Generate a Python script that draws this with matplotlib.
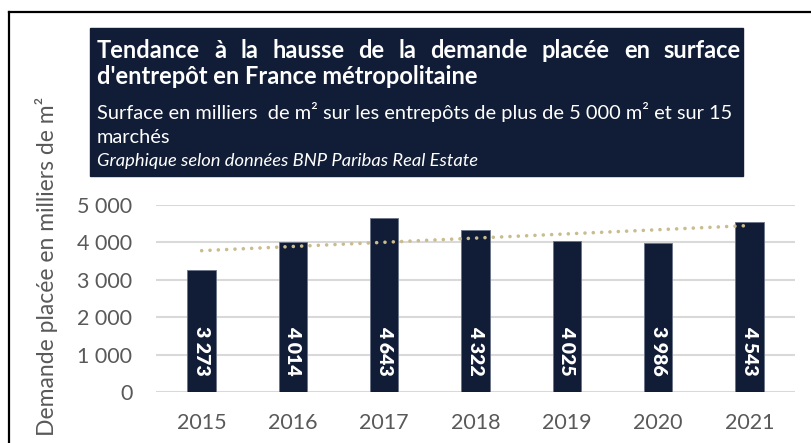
import numpy as np
import matplotlib.pyplot as plt
from matplotlib.patches import Rectangle
from matplotlib.lines import Line2D

# Données (milliers de m²)
annees = ['2015', '2016', '2017', '2018', '2019', '2020', '2021']
demande = [3273, 4014, 4643, 4322, 4025, 3986, 4543]
etiquettes = ['3 273', '4 014', '4 643', '4 322', '4 025', '3 986', '4 543']
yticks = [0, 1000, 2000, 3000, 4000, 5000]
ytick_labels = ['0', '1 000', '2 000', '3 000', '4 000', '5 000']

titre_l1 = "Tendance à la hausse de la demande placée en surface"
titre_l2 = "d'entrepôt en France métropolitaine"
sous_titre_l1 = "Surface en milliers  de m² sur les entrepôts de plus de 5 000 m² et sur 15"
sous_titre_l2 = "marchés"
source = "Graphique selon données BNP Paribas Real Estate"

navy = '#111d36'
gris = '#595959'
police = 'Lato'

W, H = 811, 443
fig = plt.figure(figsize=(W / 100, H / 100), dpi=100)
ax = fig.add_axes([156 / W, 1 - 392 / H, (795 - 156) / W, (392 - 205) / H])

x = np.arange(len(annees))
ax.bar(x, demande, width=0.31, color=navy, edgecolor='#6b7487', linewidth=0.6, zorder=3)

# courbe de tendance linéaire (comme Excel)
a, b = np.polyfit(x, demande, 1)
ax.plot(x, a * x + b, color='#c9bc8e', lw=2.6, linestyle=(0, (0.01, 2.3)),
        dash_capstyle='round', zorder=4)

for xi, lab in zip(x, etiquettes):
    ax.annotate(lab, (xi, 0), xytext=(0, 12), textcoords='offset points',
                rotation=270, ha='center', va='bottom', color='white',
                fontsize=14, fontweight='heavy', family=police, zorder=5)

ax.set_xlim(-0.5, 6.5)
ax.set_ylim(0, 5000)
ax.set_xticks(x)
ax.set_xticklabels(annees)
ax.set_yticks(yticks)
ax.set_yticklabels(ytick_labels)
ax.tick_params(length=0, labelsize=15.5, labelcolor=gris)
ax.tick_params(axis='x', pad=15)
ax.tick_params(axis='y', pad=17)
for lab in ax.get_xticklabels() + ax.get_yticklabels():
    lab.set_family(police)
ax.grid(axis='y', color='#d9d9d9', lw=1.5, zorder=0)
ax.set_axisbelow(True)
for s in ax.spines.values():
    s.set_visible(False)

fig.text(47 / W, 1 - 266 / H, 'Demande placée en milliers de m²', rotation=90,
         ha='center', va='center', fontsize=16.5, color=gris, family=police)

# cadre du graphique
fig.add_artist(Line2D([9 / W, 1], [1 - 12 / H, 1 - 12 / H], color='black', lw=1.6))
fig.add_artist(Line2D([9 / W, 9 / W], [0, 1 - 12 / H], color='black', lw=1.6))

# bloc titre
fig.add_artist(Rectangle((90 / W, 1 - 176 / H), (743 - 90) / W, (176 - 28) / H,
                         transform=fig.transFigure, color=navy, zorder=1))

# ligne 1 justifiée
renderer = fig.canvas.get_renderer()
mots = titre_l1.split(' ')
x0, x1 = 97, 741
objs = [fig.text(0, 1 - 58 / H, m, color='white', fontsize=17, fontweight='bold',
                 family=police, zorder=2) for m in mots]
larg = [t.get_window_extent(renderer).width for t in objs]
esp = (x1 - x0 - sum(larg)) / (len(mots) - 1)
pos = x0
for t, w in zip(objs, larg):
    t.set_x(pos / W)
    pos += w + esp

fig.text(97 / W, 1 - 84 / H, titre_l2, color='white', fontsize=17, fontweight='bold',
         family=police, zorder=2)
fig.text(97 / W, 1 - 119 / H, sous_titre_l1, color='white', fontsize=14.4,
         family=police, zorder=2)
fig.text(97 / W, 1 - 143 / H, sous_titre_l2, color='white', fontsize=14.4,
         family=police, zorder=2)
fig.text(97 / W, 1 - 166 / H, source, color='white', fontsize=13.2, style='italic',
         family=police, zorder=2)

fig.savefig('out.png', dpi=100)
